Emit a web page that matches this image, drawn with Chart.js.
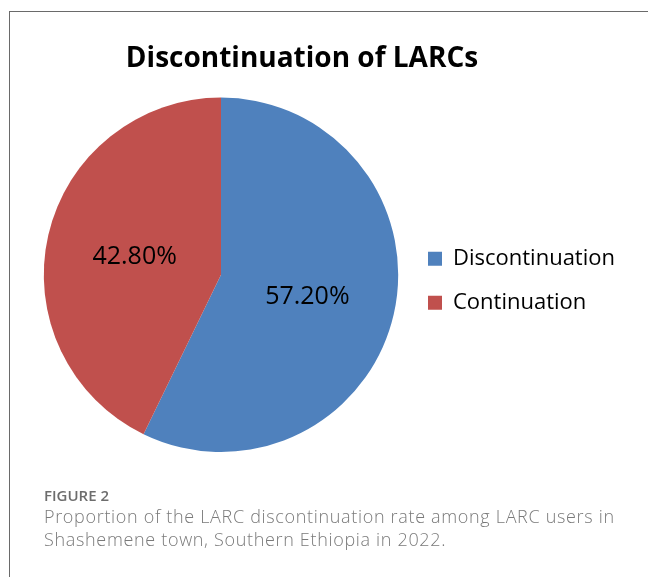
<!DOCTYPE html>
<html>
<head>
<meta charset="utf-8">
<script src="https://cdn.jsdelivr.net/npm/chart.js@4.4.1/dist/chart.umd.min.js"></script>
<style>
  body { margin: 0; background: #fff; width: 648px; height: 577px; overflow: hidden; position: relative; }
  #frame { position: absolute; left: 9px; top: 11px; width: 700px; height: 700px; border-left: 1px solid #6a6a6a; border-top: 1px solid #6a6a6a; }
  #chart { position: absolute; left: 0; top: 0; }
  #figlabel { position: absolute; left: 44px; top: 485px; font: 600 15px/20px "Open Sans", sans-serif; color: #6d6d6d; }
  #figtext { position: absolute; left: 44px; top: 505px; width: 580px; font: 300 18px/23px "Open Sans", sans-serif; color: #7a7a7a; white-space: nowrap; }
</style>
</head>
<body>
<div id="frame"></div>
<canvas id="chart" width="648" height="577"></canvas>
<div id="figlabel">FIGURE 2</div>
<div id="figtext"><span id="l1">Proportion of the LARC discontinuation rate among LARC users in</span><br><span id="l2">Shashemene town, Southern Ethiopia in 2022.</span></div>

<script>
// data
var categories = ["Discontinuation", "Continuation"];
var shares = [57.2, 42.8];
var sliceColors = ["#4F81BD", "#C0504D"];
var chartTitle = "Discontinuation of LARCs";

// caption: spread the first line to the printed width, same spacing for the second
(function() {
    var l1 = document.getElementById('l1');
    var w = l1.getBoundingClientRect().width;
    var ls = (571 - w) / l1.textContent.length;
    document.getElementById('figtext').style.letterSpacing = ls.toFixed(2) + 'px';
})();

// percent labels in the middle of each slice
var sliceLabels = {
    id: 'sliceLabels',
    afterDatasetsDraw: function(chart) {
        var ctx = chart.ctx;
        var meta = chart.getDatasetMeta(0);
        ctx.save();
        ctx.font = '25px "Open Sans"';
        ctx.fillStyle = '#000';
        ctx.textAlign = 'center';
        ctx.textBaseline = 'alphabetic';
        meta.data.forEach(function(arc, i) {
            var p = arc.getCenterPoint();
            ctx.fillText(shares[i].toFixed(2) + '%', p.x, p.y + 9);
        });
        ctx.restore();
    }
};

// legend box is kept narrow for the layout; widen it afterwards so the text is not clipped
var legendRoom = {
    id: 'legendRoom',
    afterLayout: function(chart) {
        var lg = chart.legend;
        lg.width = 240;
        lg.right = lg.left + 240;
    }
};

new Chart(document.getElementById("chart"), {
    type: 'pie',
    data: {
        labels: categories,
        datasets: [{
            data: shares,
            backgroundColor: sliceColors,
            borderWidth: 0,
            hoverOffset: 0
        }]
    },
    options: {
        responsive: false,
        animation: false,
        devicePixelRatio: 1,
        layout: { padding: { top: 0, left: 36, right: 80, bottom: 125 } },
        plugins: {
            tooltip: { enabled: false },
            title: {
                display: true,
                text: chartTitle,
                color: '#000',
                font: { family: '"Open Sans"', size: 28, weight: 'bold', lineHeight: 1.2 },
                padding: { top: 42, bottom: 22 }
            },
            legend: {
                position: 'right',
                fullSize: false,
                maxWidth: 162,
                title: { display: true, text: ' ', font: { size: 10, lineHeight: 1.2 }, padding: 0 },
                labels: {
                    boxWidth: 14,
                    boxHeight: 14,
                    padding: 22,
                    color: '#000',
                    font: { family: '"Open Sans"', size: 22 }
                }
            }
        }
    },
    plugins: [sliceLabels, legendRoom]
});
</script>
</body>
</html>
